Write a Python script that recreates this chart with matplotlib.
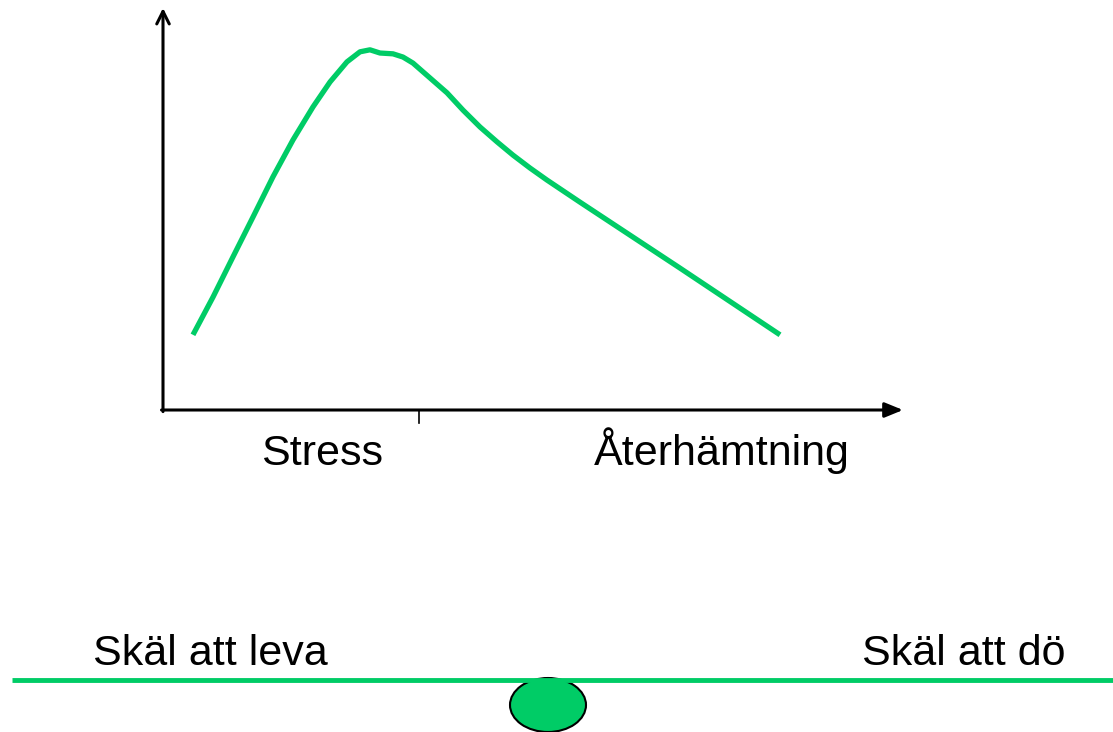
import matplotlib.pyplot as plt
from matplotlib.patches import Ellipse

GREEN = '#00cc66'

# kurvan (x: tid 0-100, y: nivå 0-100)
curve_x = [4.05, 6.76, 9.46, 12.16, 14.86, 17.57, 20.27, 22.57, 24.86, 26.62, 27.97,
           29.32, 31.08, 32.43, 33.78, 36.08, 38.38, 40.54, 42.84, 45.14, 47.30,
           49.59, 51.89, 56.35, 69.86, 83.38]
curve_y = [18.7, 28.1, 38.1, 48.0, 58.0, 67.2, 75.4, 81.6, 86.6, 89.1, 89.6,
           88.8, 88.6, 87.8, 86.3, 82.6, 78.9, 74.6, 70.4, 66.7, 63.4,
           60.2, 57.2, 51.7, 35.3, 18.7]

x_labels = ['Stress', 'Återhämtning']
x_label_pos = [21.5, 75.5]
tick_pos = [34.6]

scale_labels = ['Skäl att leva', 'Skäl att dö']

W, H = 1113, 732
fig = plt.figure(figsize=(W / 100, H / 100), dpi=100)
plt.rcParams['font.family'] = ['Liberation Sans', 'DejaVu Sans']

# bakgrund i pixelkoordinater för vågen längst ner
bg = fig.add_axes([0, 0, 1, 1])
bg.set_xlim(0, W)
bg.set_ylim(H, 0)
bg.axis('off')

# huvuddiagram
left, right, bottom, top = 163, 903, 410, 8
ax = fig.add_axes([left / W, (H - bottom) / H, (right - left) / W, (bottom - top) / H])
ax.set_xlim(0, 100)
ax.set_ylim(0, 100)
ax.axis('off')
ax.patch.set_alpha(0)

ax.plot(curve_x, curve_y, color=GREEN, lw=3.8, solid_capstyle='butt',
        solid_joinstyle='round', clip_on=False)

# axlar med pilar
ax.annotate('', xy=(100, 0), xytext=(-0.2, 0), annotation_clip=False,
            arrowprops=dict(arrowstyle='-|>,head_length=1.1,head_width=0.45',
                            color='black', lw=2.2, shrinkA=0, shrinkB=0))
ax.annotate('', xy=(0, 100), xytext=(0, -0.4), annotation_clip=False,
            arrowprops=dict(arrowstyle='->,head_length=0.9,head_width=0.45',
                            color='black', lw=2.2, shrinkA=0, shrinkB=0))
for t in tick_pos:
    ax.plot([t, t], [0, -3.3], color='black', lw=1.2, clip_on=False)

for lab, xp in zip(x_labels, x_label_pos):
    ax.text(xp, -13.7, lab, ha='center', va='baseline', fontsize=31)

# vågen
bg.plot([12, W], [680, 680], color=GREEN, lw=3.5, solid_capstyle='butt')
bg.add_patch(Ellipse((548, 705), 76, 54, facecolor=GREEN, edgecolor='black', lw=1.5))
bg.text(210, 665, scale_labels[0], ha='center', va='baseline', fontsize=31)
bg.text(964, 665, scale_labels[1], ha='center', va='baseline', fontsize=31)

fig.savefig('out.png', dpi=100)
